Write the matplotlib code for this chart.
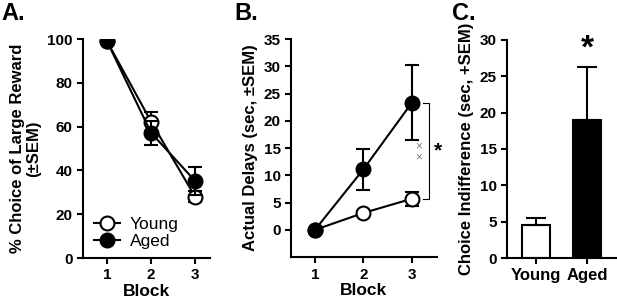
import matplotlib
matplotlib.use("Agg")
import matplotlib.pyplot as plt
from matplotlib.lines import Line2D

plt.rcParams["font.family"] = ["Liberation Sans", "DejaVu Sans"]
plt.rcParams["font.weight"] = "bold"

# panel A: % choice of large reward
blocks = [1, 2, 3]
choice_young = [99, 62.3, 28.0]
choice_young_err = [0.5, 4.2, 2.5]
choice_aged = [99, 57.2, 35.2]
choice_aged_err = [0.5, 5.6, 6.4]

# panel B: actual delays
delay_young = [0, 3.1, 5.7]
delay_young_err = [0, 0.4, 1.3]
delay_aged = [0, 11.1, 23.3]
delay_aged_err = [0, 3.8, 6.9]

# panel C: choice indifference
groups = ["Young", "Aged"]
indiff = [4.5, 19.0]
indiff_err = [1.0, 7.3]

fig = plt.figure(figsize=(6.17, 3.05), dpi=100)
axA = fig.add_axes([0.1345, 0.154, 0.206, 0.718])
axB = fig.add_axes([0.4716, 0.157, 0.2366, 0.715])
axC = fig.add_axes([0.8217, 0.154, 0.1783, 0.715])

TICK = 11
LAB = 12


def style(ax):
    for s in ["top", "right"]:
        ax.spines[s].set_visible(False)
    for s in ["left", "bottom"]:
        ax.spines[s].set_linewidth(1.5)
    ax.tick_params(width=1.5, length=4, labelsize=TICK)
    for lab in ax.get_xticklabels() + ax.get_yticklabels():
        lab.set_fontweight("bold")


kw = dict(lw=1.5, ms=10, capsize=5, elinewidth=1.5, capthick=1.5,
          markeredgewidth=1.5, color="black")

# A
axA.errorbar(blocks, choice_young, yerr=choice_young_err, marker="o",
             mfc="white", zorder=2, **kw)
axA.errorbar(blocks, choice_aged, yerr=choice_aged_err, marker="o",
             mfc="black", zorder=3, **kw)
axA.set_xlim(0.455, 3.34)
axA.set_ylim(0, 100)
axA.set_xticks(blocks)
axA.set_yticks([0, 20, 40, 60, 80, 100])
axA.set_xlabel("Block", fontsize=12.5, fontweight="bold", labelpad=1)
axA.set_ylabel("% Choice of Large Reward\n(±SEM)", fontsize=LAB,
               fontweight="bold", labelpad=4, linespacing=1.1)
style(axA)
handles = [
    Line2D([], [], color="black", lw=1.5, marker="o", ms=10, mfc="white",
           markeredgewidth=1.5),
    Line2D([], [], color="black", lw=1.5, marker="o", ms=10, mfc="black",
           markeredgewidth=1.5),
]
axA.legend(handles, ["Young", "Aged"], loc="lower left",
           bbox_to_anchor=(-0.04, -0.03), frameon=False,
           handlelength=1.5, handletextpad=0.6, labelspacing=0.1,
           prop={"size": 12.5, "weight": "normal"})

# B
axB.errorbar(blocks, delay_young, yerr=delay_young_err, marker="o",
             mfc="white", zorder=2, **kw)
axB.errorbar(blocks, delay_aged, yerr=delay_aged_err, marker="o",
             mfc="black", zorder=3, **kw)
axB.set_xlim(0.505, 3.52)
axB.set_ylim(-5, 35)
axB.set_xticks(blocks)
axB.set_yticks([0, 5, 10, 15, 20, 25, 30, 35])
axB.set_xlabel("Block", fontsize=12.5, fontweight="bold", labelpad=1)
axB.set_ylabel("Actual Delays (sec, ±SEM)", fontsize=LAB, fontweight="bold")
style(axB)
bx = 3.35
axB.plot([bx - 0.12, bx, bx, bx - 0.12], [delay_aged[2], delay_aged[2],
         delay_young[2], delay_young[2]], color="black", lw=0.8, clip_on=False)
axB.text(bx + 0.19, (delay_aged[2] + delay_young[2]) / 2, "*", fontsize=15,
         ha="center", va="center", fontweight="bold")
axB.text(bx - 0.21, 14.3, "×\n×", fontsize=8.5, color="gray", ha="center",
         va="center", fontweight="normal", linespacing=0.85)

# C
xs = [0, 1]
axC.bar(xs, indiff, width=0.56, color=["white", "black"], edgecolor="black",
        linewidth=1.5)
axC.errorbar(xs, indiff, yerr=[[0, 0], indiff_err], fmt="none", ecolor="black",
             elinewidth=1.5, capsize=7, capthick=1.5)
axC.set_xlim(-0.57, 1.59)
axC.set_ylim(0, 30)
axC.set_xticks(xs)
axC.set_xticklabels(groups)
axC.set_yticks([0, 5, 10, 15, 20, 25, 30])
axC.set_ylabel("Choice Indifference (sec, +SEM)", fontsize=LAB,
               fontweight="bold")
style(axC)
axC.tick_params(axis="x", labelsize=12)
axC.text(1, 28.8, "*", fontsize=24, ha="center", va="center",
         fontweight="bold")

fig.text(0.003, 0.995, "A.", fontsize=17, fontweight="bold", va="top")
fig.text(0.38, 0.995, "B.", fontsize=17, fontweight="bold", va="top")
fig.text(0.733, 0.995, "C.", fontsize=17, fontweight="bold", va="top")

fig.savefig("out.png", dpi=100)
